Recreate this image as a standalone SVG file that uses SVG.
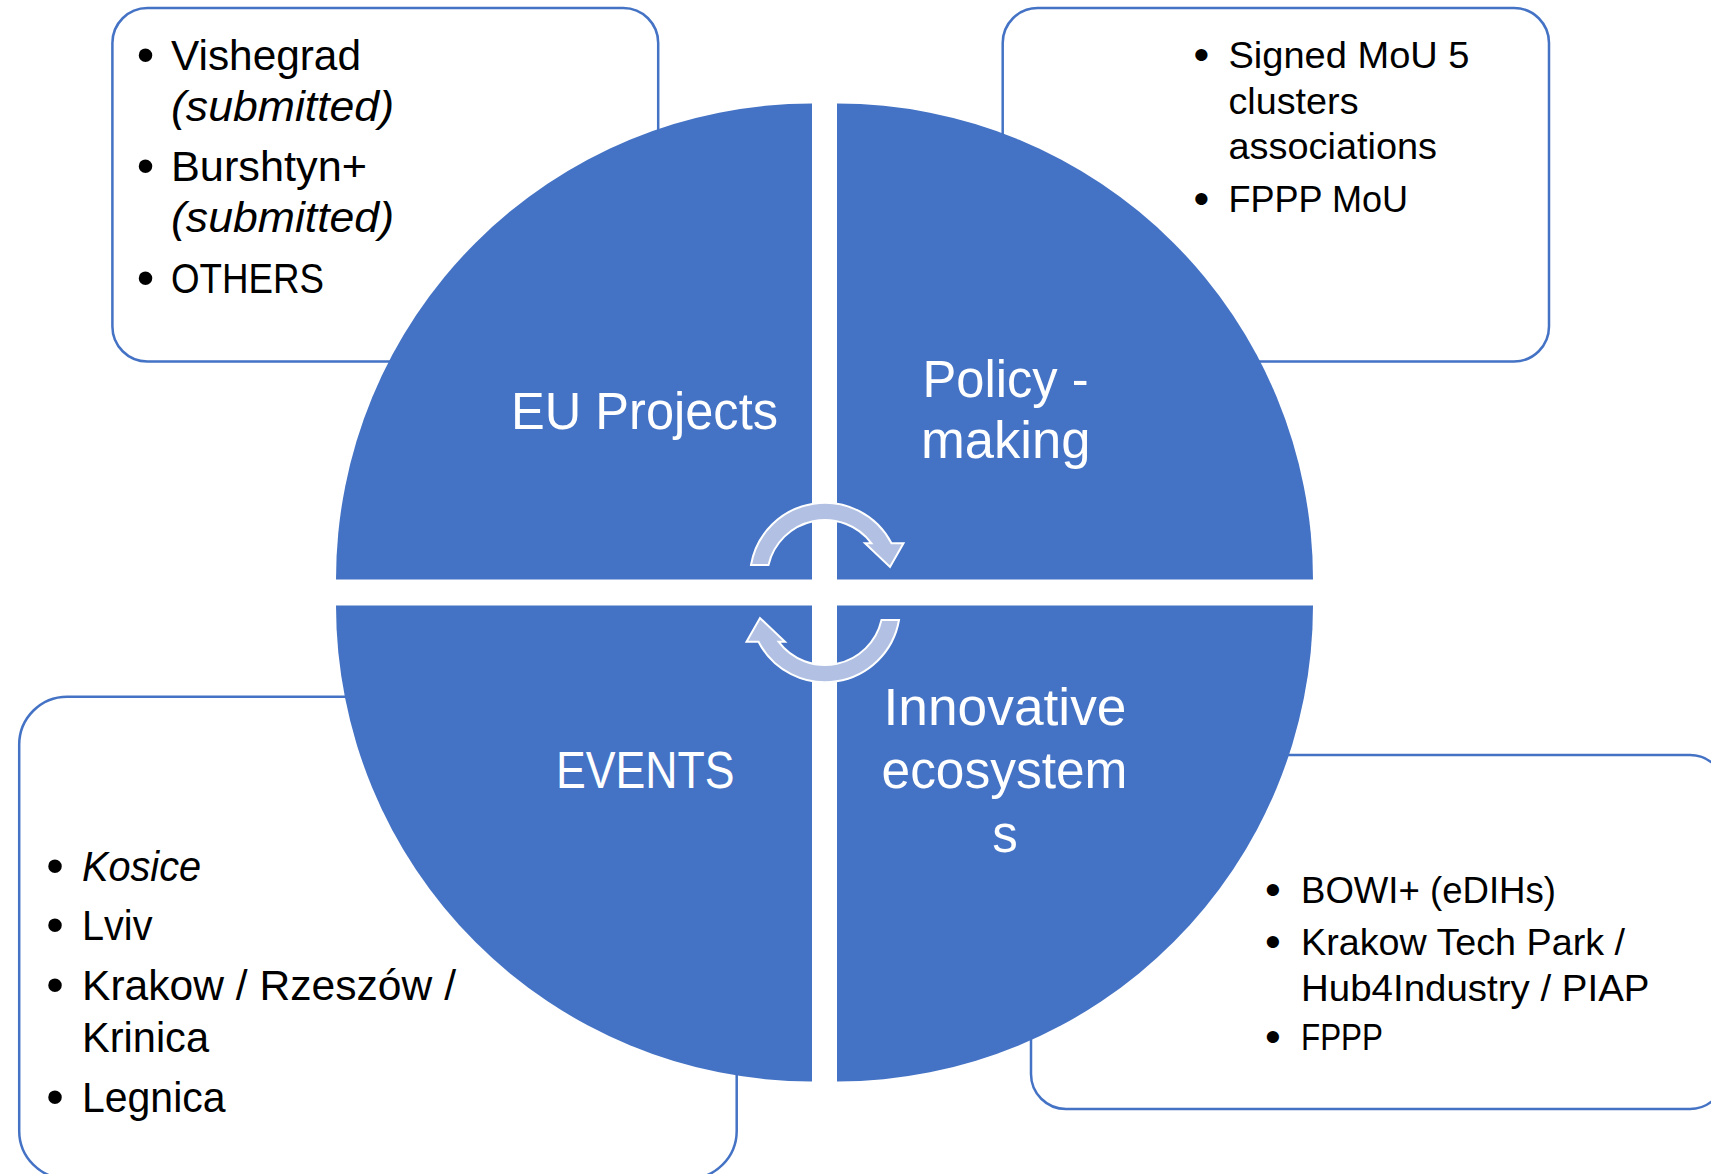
<svg xmlns="http://www.w3.org/2000/svg" width="1711" height="1174" viewBox="0 0 1711 1174">
<style>
.box{fill:#ffffff;stroke:#4472C4;stroke-width:2.5}
.quad{fill:#4472C4}
.arrow{fill:#B1C0E3;stroke:#ffffff;stroke-width:2}
text{font-family:"Liberation Sans",Arial,sans-serif}
.lbl{fill:#ffffff;font-size:51px}
.big{fill:#000000;font-size:42px}
.small{fill:#000000;font-size:37.5px}
.bulB{fill:#000000;font-size:50px;text-anchor:middle}
.bulS{fill:#000000;font-size:45px;text-anchor:middle}
.it{font-style:italic}
</style>
<rect width="1711" height="1174" fill="#ffffff"/>
<g id="box-eu">
<rect class="box" x="112.4" y="8" width="545.8" height="353.5" rx="35" ry="35"/>
<text class="bulB" x="145.4" y="72">•</text>
<text class="big" x="171" y="70" textLength="190" lengthAdjust="spacingAndGlyphs">Vishegrad</text>
<text class="big it" x="171" y="120.5" textLength="223" lengthAdjust="spacingAndGlyphs">(submitted)</text>
<text class="bulB" x="145.4" y="183">•</text>
<text class="big" x="171" y="180.5" textLength="196" lengthAdjust="spacingAndGlyphs">Burshtyn+</text>
<text class="big it" x="171" y="232" textLength="223" lengthAdjust="spacingAndGlyphs">(submitted)</text>
<text class="bulB" x="145.4" y="295">•</text>
<text class="big" x="171" y="292.5" textLength="153" lengthAdjust="spacingAndGlyphs">OTHERS</text>
</g>
<g id="box-policy">
<rect class="box" x="1002.7" y="8" width="546.3" height="353.5" rx="35" ry="35"/>
<text class="bulS" x="1201.5" y="70">•</text>
<text class="small" x="1228.5" y="68" textLength="241" lengthAdjust="spacingAndGlyphs">Signed MoU 5</text>
<text class="small" x="1228.5" y="113.6" textLength="130" lengthAdjust="spacingAndGlyphs">clusters</text>
<text class="small" x="1228.5" y="159" textLength="208.5" lengthAdjust="spacingAndGlyphs">associations</text>
<text class="bulS" x="1201.5" y="213.7">•</text>
<text class="small" x="1228.5" y="211.7" textLength="179.5" lengthAdjust="spacingAndGlyphs">FPPP MoU</text>
</g>
<g id="box-events">
<rect class="box" x="19.2" y="696.7" width="717.5" height="482" rx="48" ry="48"/>
<text class="bulB" x="54.9" y="883">•</text>
<text class="big it" x="82" y="881" textLength="119" lengthAdjust="spacingAndGlyphs">Kosice</text>
<text class="bulB" x="54.9" y="942">•</text>
<text class="big" x="82" y="940" textLength="70.5" lengthAdjust="spacingAndGlyphs">Lviv</text>
<text class="bulB" x="54.9" y="1002">•</text>
<text class="big" x="82" y="1000" textLength="374" lengthAdjust="spacingAndGlyphs">Krakow / Rzeszów /</text>
<text class="big" x="82" y="1052" textLength="127" lengthAdjust="spacingAndGlyphs">Krinica</text>
<text class="bulB" x="54.9" y="1114">•</text>
<text class="big" x="82" y="1112" textLength="143.5" lengthAdjust="spacingAndGlyphs">Legnica</text>
</g>
<g id="box-ecosystems">
<rect class="box" x="1031" y="755" width="694" height="354" rx="35" ry="35"/>
<text class="bulS" x="1272.8" y="905">•</text>
<text class="small" x="1301" y="903" textLength="255" lengthAdjust="spacingAndGlyphs">BOWI+ (eDIHs)</text>
<text class="bulS" x="1272.8" y="956.5">•</text>
<text class="small" x="1301" y="954.5" textLength="324" lengthAdjust="spacingAndGlyphs">Krakow Tech Park /</text>
<text class="small" x="1301" y="1000.5" textLength="348.5" lengthAdjust="spacingAndGlyphs">Hub4Industry / PIAP</text>
<text class="bulS" x="1272.8" y="1052">•</text>
<text class="small" x="1301" y="1050" textLength="82" lengthAdjust="spacingAndGlyphs">FPPP</text>
</g>
<g id="quad-eu">
<path class="quad" d="M812,579.5 L336,579.5 A476,476 0 0 1 812,103.5 Z"/>
<text class="lbl" x="511" y="428.6" textLength="267" lengthAdjust="spacingAndGlyphs">EU Projects</text>
</g>
<g id="quad-policy">
<path class="quad" d="M837,579.5 L837,103.5 A476,476 0 0 1 1313,579.5 Z"/>
<text class="lbl" x="922.5" y="396.5" textLength="166" lengthAdjust="spacingAndGlyphs">Policy -</text>
<text class="lbl" x="921" y="457.5" textLength="169.5" lengthAdjust="spacingAndGlyphs">making</text>
</g>
<g id="quad-ecosystems">
<path class="quad" d="M837,605.5 L1313,605.5 A476,476 0 0 1 837,1081.5 Z"/>
<text class="lbl" x="883.5" y="725" textLength="243" lengthAdjust="spacingAndGlyphs">Innovative</text>
<text class="lbl" x="881.5" y="788" textLength="246" lengthAdjust="spacingAndGlyphs">ecosystem</text>
<text class="lbl" x="1005" y="851.6" text-anchor="middle">s</text>
</g>
<g id="quad-events">
<path class="quad" d="M812,605.5 L812,1081.5 A476,476 0 0 1 336,605.5 Z"/>
<text class="lbl" x="556" y="788" textLength="178.5" lengthAdjust="spacingAndGlyphs">EVENTS</text>
</g>
<g id="connectors">
<path id="arrow-top" class="arrow" d="M751,565 A75,75 0 0 1 891.5,543.3 L903.5,543.3 L890,567 L865,543.3 L871.5,543.3 A58,58 0 0 0 768.5,565 Z"/>
<path id="arrow-bottom" class="arrow" d="M751,565 A75,75 0 0 1 891.5,543.3 L903.5,543.3 L890,567 L865,543.3 L871.5,543.3 A58,58 0 0 0 768.5,565 Z" transform="rotate(180 825 592.5)"/>
</g>
</svg>
